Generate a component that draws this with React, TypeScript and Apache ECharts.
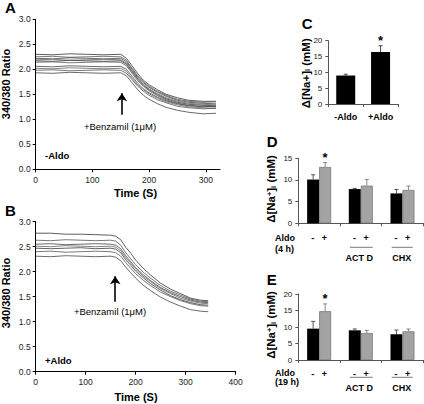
import React, { useEffect, useRef } from 'react';
import * as echarts from 'echarts';

const FONT = '"Liberation Sans", Arial, Helvetica, sans-serif';

// ---------- Panel A (-Aldo) traces ----------
const timeA = [0, 30, 60, 90, 120, 150, 160, 170, 180, 190, 200, 215, 230, 250, 270, 295, 318];
const traceA1 = [2.30, 2.29, 2.31, 2.30, 2.29, 2.30, 2.22, 2.07, 1.91, 1.78, 1.69, 1.59, 1.50, 1.43, 1.38, 1.36, 1.36];
const traceA2 = [2.25, 2.26, 2.24, 2.25, 2.26, 2.25, 2.18, 2.02, 1.87, 1.75, 1.66, 1.56, 1.48, 1.40, 1.36, 1.34, 1.35];
const traceA3 = [2.22, 2.21, 2.23, 2.22, 2.21, 2.22, 2.15, 2.00, 1.84, 1.73, 1.64, 1.54, 1.46, 1.38, 1.34, 1.32, 1.31];
const traceA4 = [2.19, 2.20, 2.18, 2.19, 2.20, 2.19, 2.12, 1.97, 1.82, 1.70, 1.61, 1.51, 1.43, 1.36, 1.32, 1.30, 1.29];
const traceA5 = [2.17, 2.16, 2.18, 2.17, 2.16, 2.17, 2.10, 1.95, 1.80, 1.68, 1.59, 1.49, 1.41, 1.34, 1.30, 1.28, 1.27];
const traceA6 = [2.14, 2.15, 2.13, 2.14, 2.15, 2.14, 2.07, 1.92, 1.77, 1.66, 1.57, 1.47, 1.39, 1.32, 1.28, 1.26, 1.25];
const traceA7 = [2.06, 2.05, 2.07, 2.06, 2.05, 2.06, 2.00, 1.86, 1.72, 1.61, 1.53, 1.44, 1.37, 1.31, 1.27, 1.25, 1.26];
const traceA8 = [2.02, 2.01, 2.03, 2.02, 2.01, 2.02, 1.96, 1.82, 1.69, 1.59, 1.51, 1.42, 1.35, 1.29, 1.25, 1.23, 1.22];
const traceA9 = [1.98, 1.99, 1.97, 1.98, 1.99, 1.98, 1.92, 1.79, 1.66, 1.56, 1.48, 1.39, 1.33, 1.26, 1.23, 1.21, 1.22];
const traceA10 = [1.93, 1.92, 1.94, 1.93, 1.92, 1.93, 1.87, 1.73, 1.59, 1.48, 1.40, 1.31, 1.24, 1.18, 1.14, 1.11, 1.12];
const tracesA = [traceA1, traceA2, traceA3, traceA4, traceA5, traceA6, traceA7, traceA8, traceA9, traceA10];

// ---------- Panel B (+Aldo) traces ----------
const timeB = [0, 30, 60, 90, 120, 150, 160, 170, 180, 190, 200, 215, 230, 250, 270, 290, 310, 330, 345];
const traceB1 = [2.77, 2.77, 2.75, 2.75, 2.74, 2.73, 2.71, 2.64, 2.49, 2.37, 2.23, 2.07, 1.93, 1.77, 1.65, 1.56, 1.47, 1.43, 1.42];
const traceB2 = [2.63, 2.62, 2.64, 2.63, 2.62, 2.63, 2.61, 2.53, 2.38, 2.26, 2.14, 1.99, 1.87, 1.72, 1.61, 1.53, 1.45, 1.41, 1.40];
const traceB3 = [2.55, 2.56, 2.54, 2.55, 2.56, 2.55, 2.53, 2.46, 2.32, 2.20, 2.08, 1.94, 1.82, 1.68, 1.58, 1.50, 1.43, 1.39, 1.38];
const traceB4 = [2.51, 2.50, 2.52, 2.51, 2.50, 2.51, 2.49, 2.42, 2.28, 2.17, 2.05, 1.91, 1.80, 1.66, 1.56, 1.47, 1.41, 1.37, 1.36];
const traceB5 = [2.47, 2.46, 2.47, 2.48, 2.46, 2.47, 2.45, 2.38, 2.24, 2.13, 2.01, 1.88, 1.76, 1.63, 1.52, 1.44, 1.38, 1.34, 1.33];
const traceB6 = [2.40, 2.41, 2.39, 2.40, 2.41, 2.40, 2.38, 2.31, 2.18, 2.07, 1.96, 1.83, 1.72, 1.59, 1.50, 1.42, 1.36, 1.32, 1.31];
const traceB7 = [2.31, 2.30, 2.32, 2.31, 2.30, 2.31, 2.29, 2.22, 2.09, 1.98, 1.87, 1.73, 1.62, 1.49, 1.39, 1.31, 1.24, 1.21, 1.20];
const tracesB = [traceB1, traceB2, traceB3, traceB4, traceB5, traceB6, traceB7];

// Benzamil addition arrows: [time, from ratio, to ratio]
const arrowA = [152, 1.09, 1.52];
const arrowB = [159, 1.40, 1.91];

// ---------- Panel C ----------
const cCategories = ['-Aldo', '+Aldo'];
const cValues = [9.0, 16.4];
const cErr = [0.4, 2.0];
const cStars = [0, 1];

// ---------- Panel D (4 h) ----------
const deConditions = ['Aldo', 'ACT D', 'CHX'];
const dMinus = [10.1, 7.9, 6.9];
const dPlus = [13.0, 8.7, 7.7];
const dMinusErr = [1.1, 0.15, 0.9];
const dPlusErr = [1.0, 1.4, 0.9];
const dStarsPlus = [1, 0, 0];

// ---------- Panel E (19 h) ----------
const eMinus = [9.5, 9.0, 7.8];
const ePlus = [14.8, 8.2, 8.7];
const eMinusErr = [2.2, 0.4, 1.3];
const ePlusErr = [2.2, 0.8, 0.7];
const eStarsPlus = [1, 0, 0];
const noStars = [0, 0, 0];

const yTicksRatio = [0, 3, 0.5];

function App() {
  const ref = useRef<HTMLDivElement>(null);

  useEffect(() => {
    if (!ref.current) return;
    const chart = echarts.init(ref.current, null, { renderer: 'svg' });

    const tickLabel = { fontFamily: FONT, fontSize: 8.5, color: '#222' };

    const valueX = (gi: number, max: number, showMax: boolean) => ({
      type: 'value', gridIndex: gi, min: 0, max, interval: 100,
      axisLine: { show: true, lineStyle: { color: '#000', width: 1 } },
      axisTick: { show: true, length: 3, lineStyle: { color: '#000' } },
      axisLabel: { ...tickLabel, margin: 6, showMaxLabel: showMax, formatter: (v: number) => (v % 100 === 0 ? String(v) : '') },
      splitLine: { show: false },
    });
    const ratioY = (gi: number) => ({
      type: 'value', gridIndex: gi, min: yTicksRatio[0], max: yTicksRatio[1], interval: yTicksRatio[2],
      axisLine: { show: true, lineStyle: { color: '#000', width: 1 } },
      axisTick: { show: true, length: 3, lineStyle: { color: '#000' } },
      axisLabel: { ...tickLabel, margin: 5, formatter: (v: number) => v.toFixed(1) },
      splitLine: { show: false },
    });
    const barY = (gi: number, max: number) => ({
      type: 'value', gridIndex: gi, min: 0, max, interval: 5,
      axisLine: { show: true, lineStyle: { color: '#555', width: 1 } },
      axisTick: { show: true, length: 3, lineStyle: { color: '#555' } },
      axisLabel: { ...tickLabel, fontSize: 8, margin: 6 },
      splitLine: { show: false },
    });
    const catX = (gi: number, data: string[], formatter: any, margin: number) => ({
      type: 'category', gridIndex: gi, data,
      axisLine: { show: true, lineStyle: { color: '#555', width: 1 } },
      axisTick: { show: true, length: 3, lineStyle: { color: '#555' } },
      axisLabel: { fontFamily: FONT, fontSize: 9, fontWeight: 'bold', color: '#000', margin, formatter },
      splitLine: { show: false },
    });

    const lineGrays = ['#333', '#555', '#444', '#666', '#3a3a3a', '#555', '#444', '#666', '#555', '#444'];

    const traceSeries = (gi: number, times: number[], traces: number[][], arrow: number[]) =>
      traces.map((tr, k) => ({
        type: 'line', xAxisIndex: gi, yAxisIndex: gi, showSymbol: false, symbol: 'none', silent: true,
        data: times.map((t, i) => [t, tr[i]]),
        lineStyle: { color: lineGrays[k % lineGrays.length], width: 0.8 },
        markLine: k === 0 ? {
          silent: true, symbol: ['none', 'arrow'], symbolSize: 8, animation: false,
          label: { show: false },
          itemStyle: { color: '#000' },
          lineStyle: { color: '#000', width: 1.6, type: 'solid' },
          data: [[{ coord: [arrow[0], arrow[1]] }, { coord: [arrow[0], arrow[2]] }]],
        } : undefined,
      }));

    const errSeries = (gi: number, vals: number[], errs: number[], stars: number[], offset: number, color: string) => ({
      type: 'custom', xAxisIndex: gi, yAxisIndex: gi, silent: true, z: 5,
      data: vals.map((v, i) => [i, v, v + errs[i], stars[i]]),
      renderItem: (_p: any, api: any) => {
        const base = api.coord([api.value(0), api.value(1)]);
        const top = api.coord([api.value(0), api.value(2)]);
        const x = base[0] + offset;
        const children: any[] = [
          { type: 'line', shape: { x1: x, y1: base[1], x2: x, y2: top[1] }, style: { stroke: color, lineWidth: 1 } },
          { type: 'line', shape: { x1: x - 2, y1: top[1], x2: x + 2, y2: top[1] }, style: { stroke: color, lineWidth: 1 } },
        ];
        if (api.value(3)) {
          children.push({
            type: 'text', x, y: top[1] - 5,
            style: { text: '*', fontFamily: FONT, fontSize: 13, fontWeight: 'bold', fill: '#000', align: 'center', verticalAlign: 'middle', textAlign: 'center', textVerticalAlign: 'middle' },
          });
        }
        return { type: 'group', children };
      },
    });

    const blackBar = (gi: number, data: number[], width: number) => ({
      type: 'bar', xAxisIndex: gi, yAxisIndex: gi, data, barWidth: width, barGap: '0%', silent: true,
      itemStyle: { color: '#000' },
    });
    const grayBar = (gi: number, data: number[], width: number) => ({
      type: 'bar', xAxisIndex: gi, yAxisIndex: gi, data, barWidth: width, barGap: '0%', silent: true,
      itemStyle: { color: '#a3a3a3', borderColor: '#7a7a7a', borderWidth: 0.8 },
    });

    const T = (x: number, y: number, text: string, size: number, weight: string, align = 'left', rotation = 0, extra: any = {}) => ({
      type: 'text', x, y, rotation, silent: true,
      style: {
        text, fontFamily: FONT, fontSize: size, fontWeight: weight, fill: '#000',
        align, verticalAlign: 'middle', textAlign: align, textVerticalAlign: 'middle', ...extra,
      },
    });
    const L = (x1: number, y1: number, x2: number, y2: number) => ({
      type: 'line', silent: true, shape: { x1, y1, x2, y2 }, style: { stroke: '#555', lineWidth: 0.8 },
    });

    const naRichC = {
      b: { fontFamily: FONT, fontSize: 11.5, fontWeight: 'bold', fill: '#000' },
      sub: { fontFamily: FONT, fontSize: 7.5, fontWeight: 'bold', fill: '#000', verticalAlign: 'bottom', padding: [4, 0, 0, 0] },
      sup: { fontFamily: FONT, fontSize: 7.5, fontWeight: 'bold', fill: '#000', verticalAlign: 'top', padding: [0, 0, 4, 0] },
    };
    const naTitle = (x: number, y: number, text: string) => ({
      type: 'text', x, y, rotation: Math.PI / 2, silent: true,
      style: { text, rich: naRichC, align: 'center', verticalAlign: 'middle', textAlign: 'center', textVerticalAlign: 'middle' },
    });

    const option: any = {
      animation: false,
      backgroundColor: '#fff',
      grid: [
        { left: 35.7, top: 19.3, width: 184.3, height: 150, outerBoundsMode: 'none' },
        { left: 35.7, top: 221.7, width: 200, height: 150, outerBoundsMode: 'none' },
        { left: 328.3, top: 40.7, width: 69.7, height: 63.3, outerBoundsMode: 'none' },
        { left: 298.3, top: 158.3, width: 125, height: 65, outerBoundsMode: 'none' },
        { left: 298.3, top: 294, width: 125, height: 66, outerBoundsMode: 'none' },
      ],
      xAxis: [
        valueX(0, 325, false),
        valueX(1, 400, true),
        catX(2, cCategories, (v: string) => v, 8.5),
        catX(3, deConditions, () => '-   +', 10),
        catX(4, deConditions, () => '-   +', 9),
      ],
      yAxis: [ratioY(0), ratioY(1), barY(2, 20), barY(3, 15), barY(4, 20)],
      series: [
        ...traceSeries(0, timeA, tracesA, arrowA),
        ...traceSeries(1, timeB, tracesB, arrowB),
        blackBar(2, cValues, 19),
        errSeries(2, cValues, cErr, cStars, 0, '#444'),
        blackBar(3, dMinus, 12),
        grayBar(3, dPlus, 12),
        errSeries(3, dMinus, dMinusErr, noStars, -6, '#555'),
        errSeries(3, dPlus, dPlusErr, dStarsPlus, 6, '#888'),
        blackBar(4, eMinus, 12),
        grayBar(4, ePlus, 12),
        errSeries(4, eMinus, eMinusErr, noStars, -6, '#555'),
        errSeries(4, ePlus, ePlusErr, eStarsPlus, 6, '#888'),
      ],
      graphic: [
        T(5, 7, 'A', 15, 'bold'),
        T(5, 210.5, 'B', 15, 'bold'),
        T(301.7, 23.3, 'C', 15, 'bold'),
        T(266.7, 141.7, 'D', 15, 'bold'),
        T(266.7, 279.7, 'E', 15, 'bold'),
        T(5.5, 84, '340/380 Ratio', 11, 'bold', 'center', Math.PI / 2),
        T(5.5, 293, '340/380 Ratio', 11, 'bold', 'center', Math.PI / 2),
        T(135.5, 193.3, 'Time (S)', 11, 'bold', 'center'),
        T(136, 396.7, 'Time (S)', 11, 'bold', 'center'),
        T(45, 155, '-Aldo', 9.5, 'bold'),
        T(45, 360, '+Aldo', 9.5, 'bold'),
        T(120, 126, '+Benzamil (1\u03bcM)', 9.5, 'normal', 'center'),
        T(110, 311.7, '+Benzamil (1\u03bcM)', 9.5, 'normal', 'center'),
        naTitle(305.5, 73.3, '{b|\u0394[Na+]}{sub|i}{b| (mM)}'),
        naTitle(271.3, 189, '{b|\u0394[Na}{sup|+}{b|]}{sub|i}{b| (mM)}'),
        naTitle(271.3, 325, '{b|\u0394[Na}{sup|+}{b|]}{sub|i}{b| (mM)}'),
        T(275, 238.3, 'Aldo', 9, 'bold'),
        T(275, 248.7, '(4 h)', 9, 'bold'),
        L(350, 247.3, 372.7, 247.3),
        L(391.7, 247.3, 412.7, 247.3),
        T(359.3, 258.3, 'ACT D', 9, 'bold', 'center'),
        T(401.7, 258.3, 'CHX', 9, 'bold', 'center'),
        T(275, 373.3, 'Aldo', 9, 'bold'),
        T(275, 382.3, '(19 h)', 9, 'bold'),
        L(350, 377.3, 372.7, 377.3),
        L(391.7, 377.3, 412.7, 377.3),
        T(359.3, 388.3, 'ACT D', 9, 'bold', 'center'),
        T(401.7, 388.3, 'CHX', 9, 'bold', 'center'),
      ],
    };

    chart.setOption(option);
    return () => chart.dispose();
  }, []);

  return <div ref={ref} style={{ position: 'absolute', left: 0, top: 0, width: 424, height: 404 }} />;
}

export default App;
